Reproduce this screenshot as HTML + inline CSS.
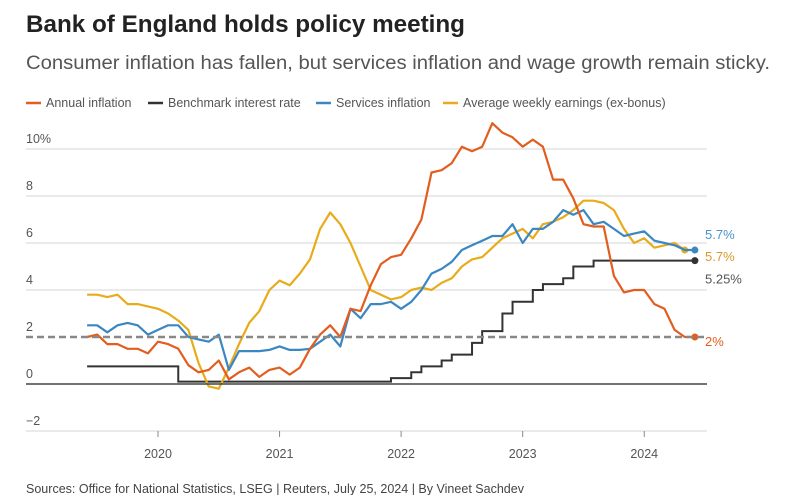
<!DOCTYPE html>
<html><head><meta charset="utf-8"><style>
body{margin:0;background:#fff;width:808px;height:495px;overflow:hidden;font-family:"Liberation Sans",sans-serif;}
</style></head><body>
<svg width="808" height="495" xmlns="http://www.w3.org/2000/svg">
<text x="26" y="32" font-size="24" font-weight="bold" fill="#222" textLength="439" lengthAdjust="spacingAndGlyphs">Bank of England holds policy meeting</text>
<text x="26" y="69" font-size="19" fill="#555" textLength="744" lengthAdjust="spacingAndGlyphs">Consumer inflation has fallen, but services inflation and wage growth remain sticky.</text>
<g font-size="12.5" fill="#555">
<line x1="26" y1="103" x2="41" y2="103" stroke="#e35d1f" stroke-width="2.5"/><text x="46" y="107">Annual inflation</text>
<line x1="148" y1="103" x2="163" y2="103" stroke="#333" stroke-width="2.5"/><text x="168" y="107">Benchmark interest rate</text>
<line x1="316" y1="103" x2="331" y2="103" stroke="#3a87c2" stroke-width="2.5"/><text x="336" y="107">Services inflation</text>
<line x1="443" y1="103" x2="458" y2="103" stroke="#e8ab1a" stroke-width="2.5"/><text x="463" y="107">Average weekly earnings (ex-bonus)</text>
</g>
<g id="grid"></g><g id="series"></g><g id="labels"></g>
<text x="26" y="493" font-size="12.5" fill="#444" textLength="498" lengthAdjust="spacingAndGlyphs">Sources: Office for National Statistics, LSEG | Reuters, July 25, 2024 | By Vineet Sachdev</text>
</svg>
<script>
const yTicks=[10,8,6,4,2,0,-2];
const yTickLabels=["10%","8","6","4","2","0","\u22122"];
const xYears=[2020,2021,2022,2023,2024];
// monthly Jun 2019 .. Jun 2024
const cpi=[2.0,2.1,1.7,1.7,1.5,1.5,1.3,1.8,1.7,1.5,0.8,0.5,0.6,1.0,0.2,0.5,0.7,0.3,0.6,0.7,0.4,0.7,1.5,2.1,2.5,2.0,3.2,3.1,4.2,5.1,5.4,5.5,6.2,7.0,9.0,9.1,9.4,10.1,9.9,10.1,11.1,10.7,10.5,10.1,10.4,10.1,8.7,8.7,7.9,6.8,6.7,6.7,4.6,3.9,4.0,4.0,3.4,3.2,2.3,2.0,2.0];
const bankRate=[0.75,0.75,0.75,0.75,0.75,0.75,0.75,0.75,0.75,0.1,0.1,0.1,0.1,0.1,0.1,0.1,0.1,0.1,0.1,0.1,0.1,0.1,0.1,0.1,0.1,0.1,0.1,0.1,0.1,0.1,0.25,0.25,0.5,0.75,0.75,1.0,1.25,1.25,1.75,2.25,2.25,3.0,3.5,3.5,4.0,4.25,4.25,4.5,5.0,5.0,5.25,5.25,5.25,5.25,5.25,5.25,5.25,5.25,5.25,5.25,5.25];
const services=[2.5,2.5,2.2,2.5,2.6,2.5,2.1,2.3,2.5,2.5,2.0,1.9,1.8,2.1,0.6,1.4,1.4,1.4,1.45,1.6,1.45,1.45,1.5,1.8,2.1,1.6,3.2,2.8,3.4,3.4,3.5,3.2,3.5,4.0,4.7,4.9,5.2,5.7,5.9,6.1,6.3,6.3,6.8,6.0,6.6,6.6,6.9,7.4,7.2,7.4,6.8,6.9,6.6,6.3,6.4,6.5,6.1,6.0,5.9,5.7,5.7];
const earnings=[3.8,3.8,3.7,3.8,3.4,3.4,3.3,3.2,3.0,2.7,2.3,0.9,-0.1,-0.2,0.7,1.7,2.6,3.1,4.0,4.4,4.2,4.7,5.3,6.6,7.3,6.8,6.0,5.0,4.0,3.8,3.6,3.7,4.0,4.1,4.0,4.3,4.5,5.0,5.3,5.4,5.8,6.2,6.4,6.6,6.2,6.8,6.9,7.1,7.4,7.8,7.8,7.7,7.4,6.6,6.0,6.2,5.8,5.9,6.0,5.7];
const target=2;
const NS="http://www.w3.org/2000/svg";
const y=v=>384-v*23.5;
const x=i=>158+(i-7)*10.13;   // i = months since Jun 2019
const xYear=yr=>158+(yr-2020)*12*10.13;
function mk(tag,attrs,parent){const e=document.createElementNS(NS,tag);for(const k in attrs)e.setAttribute(k,attrs[k]);parent.appendChild(e);return e;}
const grid=document.getElementById('grid'),ser=document.getElementById('series'),lab=document.getElementById('labels');
yTicks.forEach((t,k)=>{
  if(t!==0&&t!==target){const l=mk('line',{x1:26,x2:707,y1:y(t),y2:y(t),stroke:'#d4d4d4','stroke-width':1},grid);
  
  }
  const tx=mk('text',{x:26,y:y(t)-6,'font-size':12.5,fill:'#555'},grid);tx.textContent=yTickLabels[k];
  
  
});
xYears.forEach(yr=>{
  const tk=mk('line',{x1:xYear(yr),x2:xYear(yr),y1:y(-2),y2:y(-2)+6,stroke:'#888','stroke-width':1},grid);
  
  
  const tx=mk('text',{x:xYear(yr),y:y(-2)+27,'font-size':12.5,fill:'#555','text-anchor':'middle'},grid);tx.textContent=yr;
  
  
});
function poly(arr,color,name){
  const d=arr.map((v,i)=>x(i).toFixed(1)+','+y(v).toFixed(1)).join(' ');
  const p=mk('polyline',{points:d,fill:'none',stroke:color,'stroke-width':2.2,'stroke-linejoin':'round'},ser);
  
  
  const c=mk('circle',{cx:x(arr.length-1),cy:y(arr[arr.length-1]),r:3.5,fill:color},ser);
  
  
}
let pts=[];bankRate.forEach((v,i)=>{if(i>0)pts.push(x(i)+','+y(bankRate[i-1]));pts.push(x(i)+','+y(v));});
const br=mk('polyline',{points:pts.join(' '),fill:'none',stroke:'#333','stroke-width':2},ser);


const bd=mk('circle',{cx:x(bankRate.length-1),cy:y(bankRate[bankRate.length-1]),r:3.5,fill:'#333'},ser);


poly(earnings,'#e8ab1a','earnings-line');
poly(services,'#3a87c2','services-inflation-line');
poly(cpi,'#e35d1f','annual-inflation-line');
const z=mk('line',{x1:26,x2:707,y1:y(0),y2:y(0),stroke:'#444','stroke-width':1.5},ser);


const tg=mk('line',{x1:26,x2:707,y1:y(target),y2:y(target),stroke:'#888','stroke-width':2.5,'stroke-dasharray':'7,4'},ser);


const endLabels=[[services[services.length-1].toFixed(1)+'%','#4a93cc',y(services[services.length-1])-11],[earnings[earnings.length-1].toFixed(1)+'%','#d89a2a',y(earnings[earnings.length-1])+11],[bankRate[bankRate.length-1]+'%','#555',y(bankRate[bankRate.length-1])+23],[cpi[cpi.length-1]+'%','#e35d1f',y(cpi[cpi.length-1])+9]];
endLabels.forEach(([t,c,yy])=>{const tx=mk('text',{x:705,y:yy,'font-size':13,fill:c},lab);tx.textContent=t;
  
  });
</script>
</body></html>
